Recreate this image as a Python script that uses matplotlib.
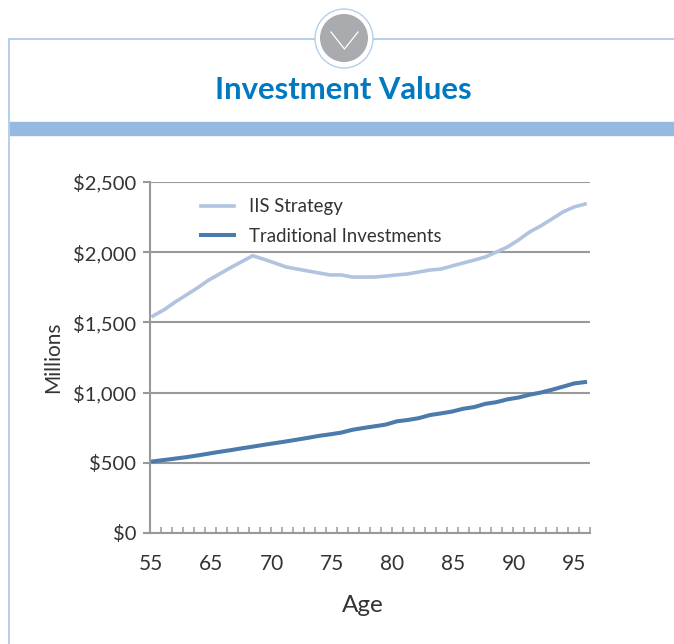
import matplotlib.pyplot as plt
from matplotlib.patches import Ellipse, Rectangle
import numpy as np

plt.rcParams['font.family'] = ['Lato', 'DejaVu Sans']

# one value per year
iis_strategy = [1546, 1590, 1645, 1695, 1745, 1800, 1845, 1890, 1932, 1975,
                1950, 1923, 1895, 1880, 1866, 1852, 1838, 1838, 1823, 1823,
                1823, 1830, 1838, 1845, 1859, 1873, 1880, 1902, 1923, 1944,
                1966, 2001, 2037, 2087, 2144, 2187, 2236, 2286, 2322, 2343]
traditional = [510, 520, 530, 540, 552, 565, 578, 590, 603, 615,
               628, 640, 652, 665, 678, 692, 703, 715, 735, 748,
               760, 772, 795, 805, 818, 840, 852, 865, 885, 897,
               920, 932, 952, 965, 985, 1000, 1020, 1042, 1065, 1075]
years = np.arange(len(iis_strategy))

x_labels = ["55", "65", "70", "75", "80", "85", "90", "95"]
x_label_pos = [-0.18, 5.2, 10.7, 16.2, 21.6, 27.1, 32.6, 38.0]
y_ticks = [0, 500, 1000, 1500, 2000, 2500]
y_labels = ["$0", "$500", "$1,000", "$1,500", "$2,000", "$2,500"]

W, H = 674, 644
fig = plt.figure(figsize=(W / 100, H / 100), dpi=100)

# page furniture, in pixel coordinates
bg = fig.add_axes([0, 0, 1, 1])
bg.set_xlim(0, W)
bg.set_ylim(H, 0)
bg.axis("off")
bg.plot([9, 9], [39, H], color="#b5d0ec", lw=1.4)
bg.plot([9, W], [39, 39], color="#b5d0ec", lw=1.4)
bg.add_patch(Rectangle((9, 122), W - 9, 13, color="#95b9e0"))
bg.add_patch(Ellipse((344, 38.5), 58, 59, fc="white", ec="#b5d0ec", lw=1, zorder=3))
bg.add_patch(Ellipse((344, 38), 48, 48, fc="#a9abae", ec="none", zorder=4))
bg.plot([331, 344.5, 358], [32, 49, 32], color="white", lw=0.9, zorder=5)
bg.text(343.5, 90, "Investment Values", color="#0079c1", fontsize=22.3,
        fontweight="bold", ha="center", va="center")

ax = fig.add_axes([150 / W, 1 - 533 / H, 440 / W, 351 / H])
ax.patch.set_alpha(0)
ax.plot(years, iis_strategy, color="#b0c4df", lw=2.6, label="IIS Strategy")
ax.plot(years, traditional, color="#4a7bab", lw=2.9, label="Traditional Investments")
ax.set_xlim(-0.27, 39.45)
ax.set_ylim(0, 2500)

grey = "#999999"
ax.set_yticks(y_ticks, y_labels)
ax.set_xticks(x_label_pos, x_labels)
ax.set_xticks(np.linspace(-0.27, 39.45, 41)[1:], minor=True)
ax.grid(axis="y", color=grey, lw=1.5)
ax.set_axisbelow(True)
for s in ["top", "right"]:
    ax.spines[s].set_visible(False)
for s in ["left", "bottom"]:
    ax.spines[s].set_color(grey)
    ax.spines[s].set_linewidth(1.5)
ax.tick_params(axis="y", length=5, width=1.5, color=grey, pad=5,
               labelsize=14.5, labelcolor="#333333")
ax.tick_params(axis="x", which="major", length=0, pad=15,
               labelsize=15, labelcolor="#333333")
ax.tick_params(axis="x", which="minor", direction="in", length=4, width=1.1, color=grey)

ax.set_xlabel("Age", fontsize=17.5, color="#333333", labelpad=15, x=213 / 440)
ax.set_ylabel("Millions", fontsize=15, color="#333333", labelpad=7)

ax.legend(loc="upper left", bbox_to_anchor=(0.077, 1.002), frameon=False,
          fontsize=13.4, labelcolor="#333333", handlelength=1.8, handletextpad=0.8,
          labelspacing=0.68)

fig.savefig("out.png", dpi=100)
